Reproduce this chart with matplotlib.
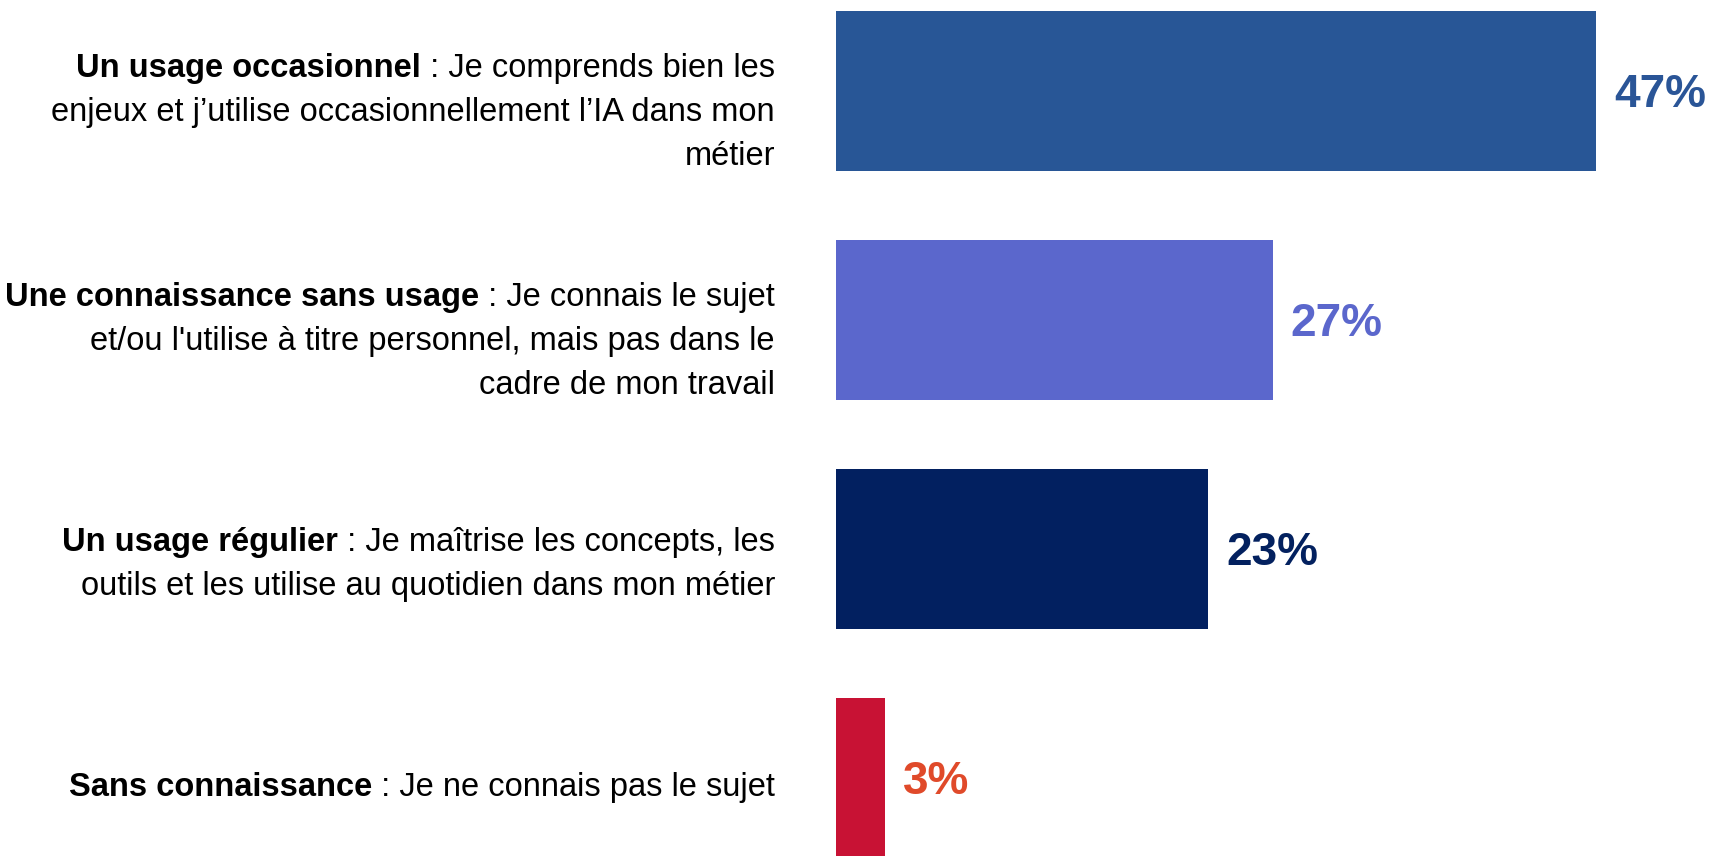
import matplotlib
matplotlib.use("Agg")
import matplotlib.pyplot as plt

##### Data
titles = [
    "Un usage occasionnel",
    "Une connaissance sans usage",
    "Un usage régulier",
    "Sans connaissance",
]
descriptions = [
    " : Je comprends bien les\nenjeux et j’utilise occasionnellement l’IA dans mon\nmétier",
    " : Je connais le sujet\net/ou l'utilise à titre personnel, mais pas dans le\ncadre de mon travail",
    " : Je maîtrise les concepts, les\noutils et les utilise au quotidien dans mon métier",
    " : Je ne connais pas le sujet",
]
values = [47, 27, 23, 3]

### Style
bar_colors = ["#285696", "#5B67CC", "#022060", "#C81234"]
value_colors = ["#2A5597", "#5B67CC", "#03215F", "#E04A2A"]

plt.rcParams["font.family"] = ["Liberation Sans", "DejaVu Sans"]

fig = plt.figure(figsize=(17.11, 8.56), dpi=100)
ax = fig.add_axes([0, 0, 1, 1])

ypos = list(range(len(values)))
ax.barh(ypos, values, height=0.70, color=bar_colors)

ax.set_xlim(-51.7, 54.1)
ax.set_ylim(3.34, -0.397)
ax.axis("off")

### Value labels
for y, v, c in zip(ypos, values, value_colors):
    ax.annotate(f"{v}%", xy=(v, y), xytext=(13, -3), textcoords="offset points",
                ha="left", va="center", fontsize=33, fontweight="bold", color=c)

### Category labels (bold title + regular description, right aligned)
line_step = 32.0
label_size = 23.5
for y, title, desc in zip(ypos, titles, descriptions):
    lines = desc.split("\n")
    n = len(lines)
    shift = -(4.5 * n + 2)
    first_center = shift + line_step * (n - 1) / 2
    first = None
    for k, line in enumerate(lines):
        t = ax.annotate(line, xy=(0, y), xytext=(-44, first_center - k * line_step),
                        textcoords="offset points", ha="right", va="center",
                        fontsize=label_size, color="black")
        if k == 0:
            first = t
    ax.annotate(title, xy=(0, 0), xycoords=first, ha="right", va="bottom",
                fontsize=label_size, fontweight="bold", color="black")

fig.savefig("out.png", dpi=100)
